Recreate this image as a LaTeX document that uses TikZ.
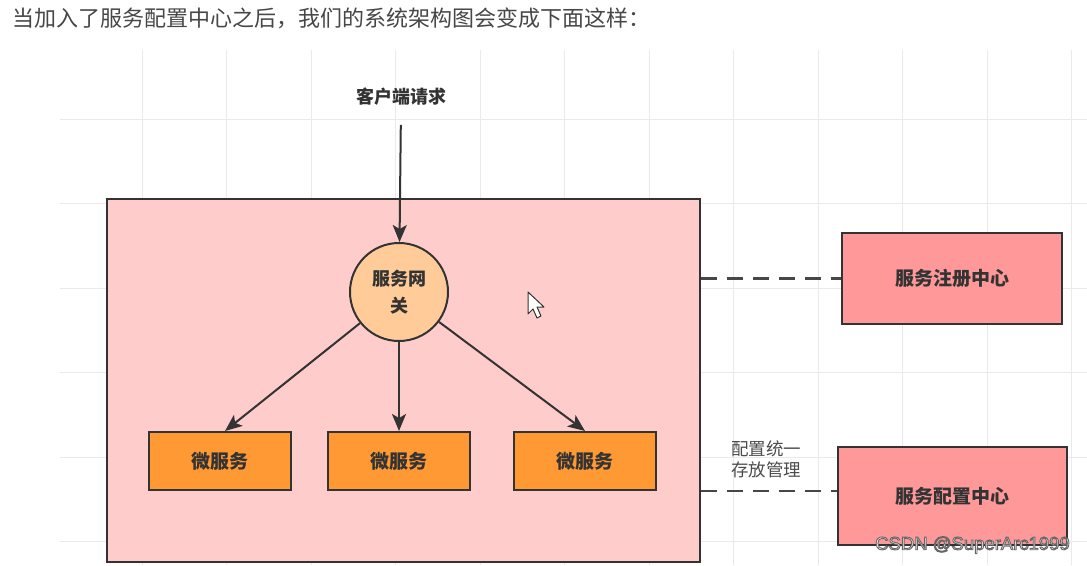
\documentclass[tikz,border=0pt]{standalone}
\usepackage{fontspec}
\setmainfont{Noto Sans CJK SC}
\newfontfamily\wmfont{Liberation Sans}
\usetikzlibrary{arrows.meta}
\definecolor{linec}{HTML}{333333}
\definecolor{sysfill}{HTML}{FFCCCC}
\definecolor{gwfill}{HTML}{FFCC99}
\definecolor{msfill}{HTML}{FF9933}
\definecolor{ctrfill}{HTML}{FF9999}
\definecolor{gridc}{HTML}{EAEAEA}
\definecolor{wmfill}{HTML}{F4F4F4}
\tikzset{
  boxb/.style={draw=linec, line width=2pt, inner sep=0pt, text=black!80},
  msbox/.style={boxb, fill=msfill, minimum width=142pt, minimum height=58pt, font=\fontsize{19}{22}\selectfont\bfseries},
  ctrbox/.style={boxb, fill=ctrfill, font=\fontsize{19}{22}\selectfont\bfseries},
  arr/.style={draw=linec, line width=2pt, -{Stealth[length=17pt,width=14pt,inset=4pt]}},
  dashline/.style={draw=linec!90, line width=2.5pt, dash pattern=on 16pt off 10pt},
  gridline/.style={draw=gridc, line width=0.8pt}
}
\begin{document}
\begin{tikzpicture}[x=1pt,y=-1pt]
\useasboundingbox (0,0) rectangle (1087,565);
\fill[white] (0,0) rectangle (1087,565);
% faint background grid
\foreach \k in {0,...,11}{
  \draw[gridline] ({142+84.5*\k},50) -- ({142+84.5*\k},565);
}
\foreach \k in {0,...,5}{
  \draw[gridline] (60,{119+84.5*\k}) -- (1087,{119+84.5*\k});
}
% title
\node[anchor=west, inner sep=0pt, text=black!72, font=\fontsize{22}{25}\selectfont] (title) at (12,18)
  {当加入了服务配置中心之后，我们的系统架构图会变成下面这样：};
% system box
\node[boxb, fill=sysfill, minimum width=593pt, minimum height=363pt] (sys) at (403.5,380.5) {};
% client
\node[inner sep=0pt, text=black!80, font=\fontsize{18}{21}\selectfont\bfseries] (client) at (401,97) {客户端请求};
% gateway
\node[circle, boxb, fill=gwfill, minimum size=98pt, align=center,
      font=\fontsize{18}{27}\selectfont\bfseries] (gw) at (399,292) {服务网\\关};
\draw[arr, shorten <=19pt] (client.south) -- (gw);
% micro services
\node[msbox] (m1) at (220,461) {微服务};
\node[msbox] (m2) at (399,461) {微服务};
\node[msbox] (m3) at (585,461) {微服务};
\draw[arr] (gw) -- ([xshift=5pt]m1.north);
\draw[arr] (gw) -- (m2.north);
\draw[arr] (gw) -- (m3.north);
% centers
\node[ctrbox, minimum width=220pt, minimum height=91pt] (reg) at (952,278.5) {服务注册中心};
\node[ctrbox, minimum width=229pt, minimum height=98pt] (cfg) at (952.5,496) {服务配置中心};
\draw[dashline] (sys.east |- reg.west) -- (reg.west);
\coordinate (cfgin) at ([yshift=5pt]cfg.west);
\draw[dashline] (sys.east |- cfgin) -- (cfgin);
\node[anchor=north west, inner sep=0pt, align=left, text=black!70,
      font=\fontsize{17.5}{20.5}\selectfont] (cfglabel) at (731,441) {配置统一\\存放管理};
% cursor
\draw[fill=white, draw=black!80, line width=1pt, line join=round]
  (528,292) -- (528,314) -- (533,309) -- (537,318) -- (541,316) -- (537,307) -- (544,307) -- cycle;
% watermark
\node[anchor=east, inner sep=0pt, text=wmfill, font=\wmfont\fontsize{18.5}{21}\selectfont] (wm) at (1070,545)
  {\special{pdf:literal 2 Tr 0.9 w 0.4 G}CSDN @SuperArc1999\special{pdf:literal 0 Tr}};
\end{tikzpicture}
\end{document}
